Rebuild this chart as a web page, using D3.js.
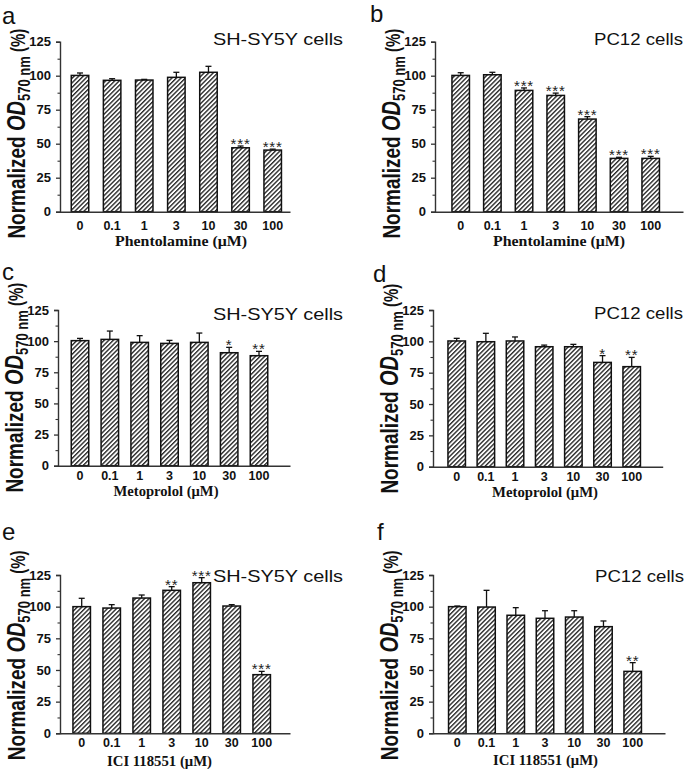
<!DOCTYPE html>
<html>
<head>
<meta charset="utf-8">
<script src="https://cdn.jsdelivr.net/npm/d3@7"></script>
<style>
  html, body { margin: 0; padding: 0; background: #fff; }
  svg { display: block; }
</style>
</head>
<body>
<svg id="chart" width="685" height="769"></svg>
<script>
// ---------------- DATA ----------------
const doses = ["0", "0.1", "1", "3", "10", "30", "100"];
const yTicks = [0, 25, 50, 75, 100, 125];
const yMinorTicks = [12.5, 37.5, 62.5, 87.5, 112.5];
const panelLetters = ["a", "b", "c", "d", "e", "f"];
const cellLabels = ["SH-SY5Y cells", "PC12 cells", "SH-SY5Y cells", "PC12 cells", "SH-SY5Y cells", "PC12 cells"];
const xTitles = ["Phentolamine (\u03BCM)", "Phentolamine (\u03BCM)", "Metoprolol (\u03BCM)", "Metoprolol (\u03BCM)", "ICI 118551 (\u03BCM)", "ICI 118551 (\u03BCM)"];

const meanA = [100.2, 96.6, 96.8, 98.8, 102.5, 47.0, 45.3];
const errA  = [1.8, 1.2, 0.5, 3.7, 4.4, 1.3, 0.7];
const starA = ["", "", "", "", "", "***", "***"];

const meanB = [100.2, 100.7, 89.2, 85.5, 68.1, 39.2, 39.2];
const errB  = [2.0, 1.8, 1.8, 1.7, 1.8, 0.8, 1.5];
const starB = ["", "", "***", "***", "***", "***", "***"];

const meanC = [100.4, 101.4, 99.0, 98.2, 99.0, 90.7, 88.3];
const errC  = [1.8, 6.7, 5.4, 2.4, 7.5, 4.3, 3.5];
const starC = ["", "", "", "", "", "*", "**"];

const meanD = [100.3, 99.7, 100.3, 95.7, 95.7, 83.2, 79.8];
const errD  = [2.1, 6.7, 3.2, 1.3, 1.9, 5.4, 7.4];
const starD = ["", "", "", "", "", "*", "**"];

const meanE = [100.0, 98.9, 106.8, 112.9, 118.9, 100.5, 46.3];
const errE  = [6.6, 2.7, 2.4, 2.9, 4.0, 1.1, 2.6];
const starE = ["", "", "", "**", "***", "", "***"];

const meanF = [100.0, 99.7, 93.2, 90.8, 91.8, 84.2, 48.9];
const errF  = [0.5, 13.2, 6.0, 6.0, 5.0, 4.5, 6.9];
const starF = ["", "", "", "", "", "", "**"];

const means = [meanA, meanB, meanC, meanD, meanE, meanF];
const errs = [errA, errB, errC, errD, errE, errF];
const stars = [starA, starB, starC, starD, starE, starF];

// ---------------- LAYOUT ----------------
const layout = [
  { ax: 60,  y0: 211.7, yTop: 41.7, c0: 80,    c6: 272.7, xEnd: 290,   letter: [2, 24],    cells: [213, 45, 130],  tickY: 230,   title: [181, 246, 132] },
  { ax: 435, y0: 211.7, yTop: 41.7, c0: 460.7, c6: 650.7, xEnd: 683,   letter: [370, 22],  cells: [594, 45, 89],   tickY: 230,   title: [559, 246, 132] },
  { ax: 58,  y0: 465.7, yTop: 310,  c0: 80,    c6: 259,   xEnd: 290,   letter: [2, 280],   cells: [213, 320, 130], tickY: 479.5, title: [166, 496, 105] },
  { ax: 433, y0: 466.7, yTop: 310,  c0: 456.7, c6: 631.7, xEnd: 662.7, letter: [373, 282], cells: [594, 319, 89],  tickY: 480.5, title: [545, 496.5, 106] },
  { ax: 60,  y0: 733.3, yTop: 575,  c0: 81.7,  c6: 261.7, xEnd: 290,   letter: [2, 540],   cells: [213, 582, 130], tickY: 747,   title: [159.5, 765.5, 105] },
  { ax: 433, y0: 733.3, yTop: 575,  c0: 457.3, c6: 632.7, xEnd: 665,   letter: [377, 540], cells: [595, 582, 89],  tickY: 746.5, title: [545.5, 765, 105] }
];

const SANS = "'Liberation Sans', Arial, sans-serif";
const SERIF = "'Liberation Serif', 'Times New Roman', serif";
const AXIS_COLOR = "#333";
const barW = 17.5;

const svg = d3.select("#chart");
const defs = svg.append("defs");
const pat = defs.append("pattern")
  .attr("id", "hatch")
  .attr("patternUnits", "userSpaceOnUse")
  .attr("width", 3.2).attr("height", 3.2)
  .attr("patternTransform", "rotate(45)");
pat.append("rect").attr("width", 3.2).attr("height", 3.2).attr("fill", "#fff");
pat.append("line").attr("x1", 0.7).attr("y1", 0).attr("x2", 0.7).attr("y2", 3.2)
  .attr("stroke", "#1a1a1a").attr("stroke-width", 1.3);

layout.forEach((L, i) => {
  const g = svg.append("g");
  const y = d3.scaleLinear().domain([0, 125]).range([L.y0, L.yTop]);
  const x = d3.scalePoint().domain(doses).range([L.c0, L.c6]);

  const data = doses.map((d, k) => ({ dose: d, mean: means[i][k], err: errs[i][k], star: stars[i][k] }));

  // bars
  g.selectAll("rect.bar").data(data).join("rect")
    .attr("class", "bar")
    .attr("x", d => x(d.dose) - barW / 2)
    .attr("y", d => y(d.mean))
    .attr("width", barW)
    .attr("height", d => y(0) - y(d.mean))
    .attr("fill", "url(#hatch)")
    .attr("stroke", "#111")
    .attr("stroke-width", 1.5);

  // error bars (upper only)
  g.selectAll("line.err").data(data).join("line")
    .attr("class", "err")
    .attr("x1", d => x(d.dose)).attr("x2", d => x(d.dose))
    .attr("y1", d => y(d.mean)).attr("y2", d => y(d.mean + d.err))
    .attr("stroke", "#111").attr("stroke-width", 1.3);
  g.selectAll("line.cap").data(data).join("line")
    .attr("class", "cap")
    .attr("x1", d => x(d.dose) - 3).attr("x2", d => x(d.dose) + 3)
    .attr("y1", d => y(d.mean + d.err)).attr("y2", d => y(d.mean + d.err))
    .attr("stroke", "#111").attr("stroke-width", 1.3);

  // significance stars
  g.selectAll("text.star").data(data.filter(d => d.star)).join("text")
    .attr("class", "star")
    .attr("x", d => x(d.dose))
    .attr("y", d => y(d.mean + d.err) + 3)
    .attr("text-anchor", "middle")
    .attr("font-family", SANS)
    .attr("font-size", 15)
    .attr("letter-spacing", 0.8)
    .attr("fill", "#222")
    .text(d => d.star);

  // y axis (major)
  const yAxis = d3.axisLeft(y).tickValues(yTicks).tickSize(4).tickPadding(5).tickFormat(d3.format("d"));
  const yg = g.append("g").attr("transform", `translate(${L.ax},0)`).call(yAxis);
  yg.select(".domain").attr("stroke", AXIS_COLOR).attr("stroke-width", 1.4);
  yg.selectAll(".tick line").attr("stroke", AXIS_COLOR).attr("stroke-width", 1.3);
  yg.selectAll(".tick text")
    .attr("font-family", SANS).attr("font-weight", "bold").attr("font-size", 13).attr("fill", "#111");
  // y axis (minor)
  const yMinor = d3.axisLeft(y).tickValues(yMinorTicks).tickSize(2.5).tickFormat("");
  const ymg = g.append("g").attr("transform", `translate(${L.ax},0)`).call(yMinor);
  ymg.select(".domain").remove();
  ymg.selectAll(".tick line").attr("stroke", AXIS_COLOR).attr("stroke-width", 1.1);

  // x axis line (no ticks)
  const xAxisScale = d3.scaleLinear().domain([0, 1]).range([L.ax, L.xEnd]);
  const xg = g.append("g").attr("transform", `translate(0,${L.y0})`)
    .call(d3.axisBottom(xAxisScale).tickValues([]).tickSizeOuter(0));
  xg.select(".domain").attr("stroke", AXIS_COLOR).attr("stroke-width", 1.4);

  // x tick labels
  g.selectAll("text.xlab").data(doses).join("text")
    .attr("class", "xlab")
    .attr("x", d => x(d)).attr("y", L.tickY)
    .attr("text-anchor", "middle")
    .attr("font-family", SANS).attr("font-weight", "bold").attr("font-size", 12.5)
    .attr("fill", "#111")
    .text(d => d);

  // x title
  g.append("text")
    .attr("x", L.title[0]).attr("y", L.title[1])
    .attr("text-anchor", "middle")
    .attr("font-family", SERIF).attr("font-weight", "bold").attr("font-size", 14)
    .attr("textLength", L.title[2]).attr("lengthAdjust", "spacingAndGlyphs")
    .attr("fill", "#111")
    .text(xTitles[i]);

  // y title (rotated)
  const yt = g.append("text")
    .attr("transform", `translate(${L.ax - 35},${L.y0 - 78}) scale(1.3,1) rotate(-90)`)
    .attr("text-anchor", "middle")
    .attr("font-family", SANS).attr("font-weight", "bold")
    .attr("fill", "#111");
  yt.append("tspan").attr("font-size", 19).text("Normalized ");
  yt.append("tspan").attr("font-size", 20).attr("font-style", "italic").text("OD");
  yt.append("tspan").attr("font-size", 13).attr("dy", 4).text("570 nm");
  yt.append("tspan").attr("font-size", 15).attr("dy", -4).text(" (%)");

  // cell label
  g.append("text")
    .attr("x", L.cells[0]).attr("y", L.cells[1])
    .attr("font-family", SANS).attr("font-size", 16.5)
    .attr("textLength", L.cells[2]).attr("lengthAdjust", "spacingAndGlyphs")
    .attr("fill", "#111")
    .text(cellLabels[i]);

  // panel letter
  g.append("text")
    .attr("x", L.letter[0]).attr("y", L.letter[1])
    .attr("font-family", SANS).attr("font-size", 24)
    .attr("fill", "#111")
    .text(panelLetters[i]);
});
</script>
</body>
</html>
